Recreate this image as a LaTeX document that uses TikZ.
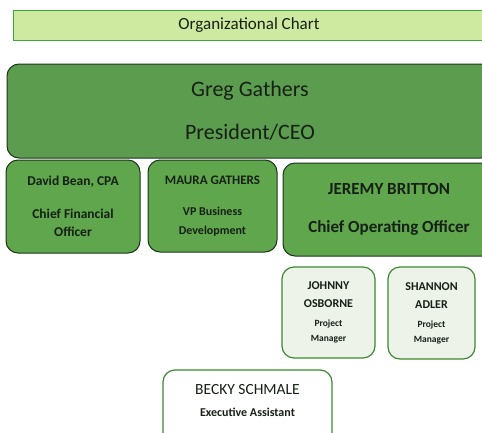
\documentclass[tikz,border=0pt]{standalone}
\usepackage{fontspec}
\setmainfont{Carlito}
\definecolor{bannerColor}{RGB}{206,233,160}
\definecolor{bannerLine}{RGB}{62,165,62}
\definecolor{headColor}{RGB}{92,156,78}
\definecolor{staffColor}{RGB}{96,166,76}
\definecolor{boxLine}{RGB}{28,52,28}
\definecolor{pmColor}{RGB}{238,243,234}
\definecolor{pmLine}{RGB}{58,138,48}
\definecolor{inkColor}{RGB}{22,32,22}
\tikzset{banner/.append style={fill=bannerColor, draw=bannerLine, line width=1pt, align=center, text=inkColor, inner sep=0pt}}
\tikzset{officer/.append style={fill=staffColor, draw=boxLine, line width=1pt, align=center, text=inkColor, inner sep=0pt, rounded corners=12pt}}
\tikzset{manager/.append style={fill=pmColor, draw=pmLine, line width=1.2pt, align=center, text=inkColor, inner sep=0pt, rounded corners=12pt}}
\newcommand{\smalltitle}{\fontsize{9.5}{15}\selectfont}

\begin{document}
\begin{tikzpicture}[x=1pt, y=-1pt]

    \useasboundingbox (0,0) rectangle (482,432);

    % Nodes
    \node (title) [banner, minimum width=472pt, minimum height=30pt, font=\fontsize{17}{20}\selectfont] at (249,25)
        {Organizational Chart};
    \node (ceo) [officer, fill=headColor, minimum width=486pt, minimum height=94pt, font=\fontsize{22}{26}\selectfont] at (250,111)
        {Greg Gathers\\[17pt] President/CEO};
    \node (cfo) [officer, minimum width=134pt, minimum height=93pt, font=\bfseries\fontsize{13.5}{18}\selectfont] at (73,206.5)
        {David Bean, CPA\\[15pt] Chief Financial\\ Officer};
    \node (vpbd) [officer, minimum width=129pt, minimum height=92pt, font=\bfseries\fontsize{12}{19}\selectfont] at (212.5,206)
        {\fontsize{13}{19}\selectfont MAURA GATHERS\\[12pt] VP Business\\ Development};
    \node (coo) [officer, minimum width=212pt, minimum height=93pt, font=\bfseries\fontsize{17}{20}\selectfont] at (389,209.5)
        {JEREMY BRITTON\\[18pt] Chief Operating Officer};
    \node (pma) [manager, minimum width=93pt, minimum height=91pt, font=\bfseries\fontsize{12}{18}\selectfont] at (328.5,312.5)
        {JOHNNY\\ OSBORNE\\[1pt] \smalltitle Project\\[-3pt] \smalltitle Manager};
    \node (pmb) [manager, minimum width=87pt, minimum height=92pt, font=\bfseries\fontsize{12}{18}\selectfont] at (431.5,313)
        {SHANNON\\ ADLER\\[1pt] \smalltitle Project\\[-3pt] \smalltitle Manager};
    \node (assist) [manager, fill=white, minimum width=169pt, minimum height=75pt, text depth=15pt, font=\fontsize{15.5}{18}\selectfont] at (247.5,407.5)
        {BECKY SCHMALE\\[4pt] \bfseries\fontsize{12}{14}\selectfont Executive Assistant};

\end{tikzpicture}
\end{document}
